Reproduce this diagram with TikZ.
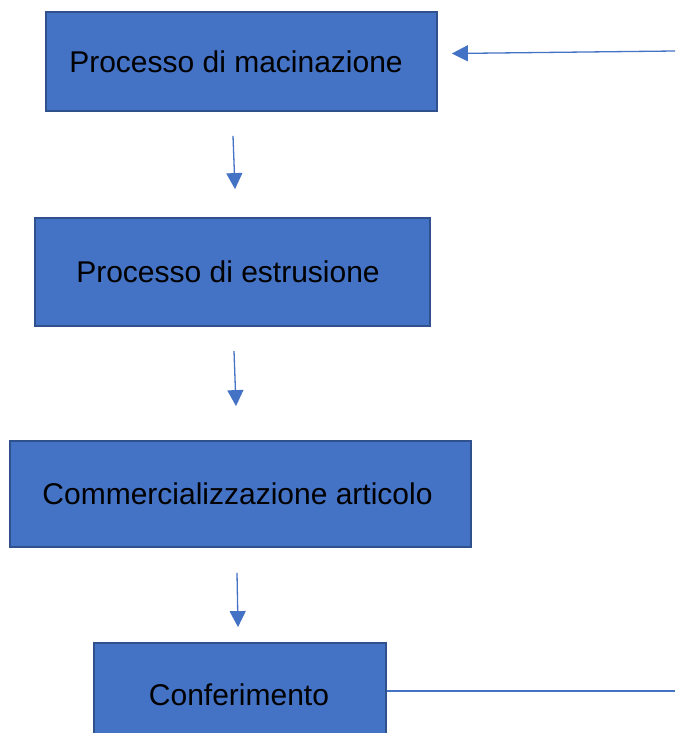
\documentclass[tikz,border=0pt]{standalone}
\usepackage{fontspec}
\setmainfont{Liberation Sans}
\usetikzlibrary{arrows.meta}
\usetikzlibrary{positioning}
\usetikzlibrary{calc}
\definecolor{boxfill}{HTML}{4472C4}
\definecolor{boxline}{HTML}{2F528F}

\begin{document}
\begin{tikzpicture}[x=1pt,y=-1pt]
 \useasboundingbox (0,0) rectangle (675,733);
 \tikzstyle{stagebox} = [draw=boxline, fill=boxfill, line width=1.8pt, inner sep=0pt, font=\fontsize{30}{34}\selectfont];
 \tikzstyle{C} = [color=boxfill, line width=1.3pt, -{Triangle[length=16pt,width=16pt]}];

 \node (grind) [stagebox, minimum width=391pt, minimum height=99pt] at (241.5,61.5) {Processo di macinazione\kern11pt};
 \node (extrude) [stagebox, minimum width=395pt, minimum height=108pt] at (232.5,272) {Processo di estrusione\kern9pt};
 \node (sell) [stagebox, minimum width=461pt, minimum height=106pt] at (240.5,494) {Commercializzazione articolo\kern6pt};
 \node (deliver) [stagebox, minimum width=292pt, minimum height=104pt] at (240,695) {Conferimento\kern2pt};

 \coordinate (back in) at (675,51);
 \coordinate (back out) at (675,691);

 \draw [C] ([xshift=-8.5pt,yshift=-24pt]grind.south) -- ([xshift=2.5pt,yshift=28pt]extrude.north);
 \draw [C] ([xshift=1.5pt,yshift=-24pt]extrude.south) -- ([xshift=-4.5pt,yshift=34pt]sell.north);
 \draw [C] ([xshift=-3.5pt,yshift=-25pt]sell.south) -- ([xshift=-2pt,yshift=15pt]deliver.north);
 \draw [C] (back in) -- ([xshift=14pt,yshift=8pt]grind.east);
 \draw [color=boxfill, line width=1.3pt] (deliver.east |- back out) -- (back out);

\end{tikzpicture}
\end{document}
